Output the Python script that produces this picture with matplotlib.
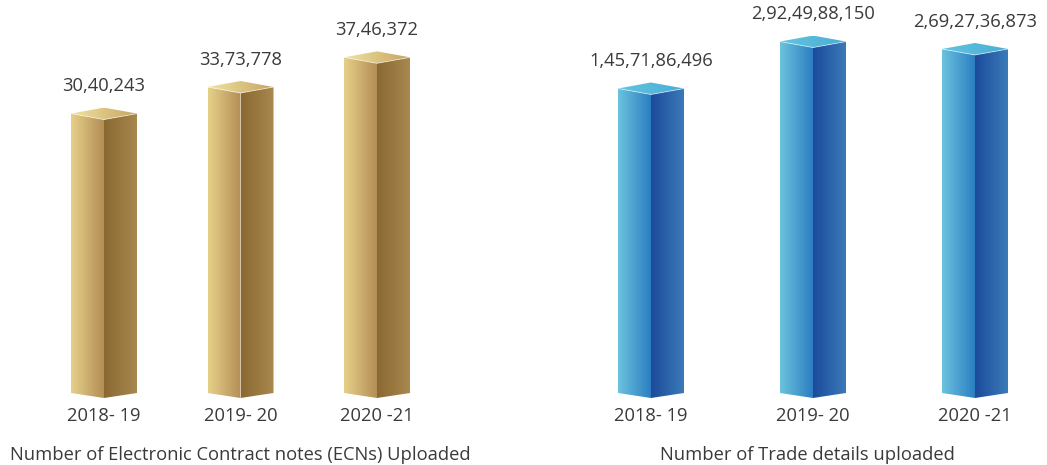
import numpy as np
import matplotlib
matplotlib.use('Agg')
import matplotlib.pyplot as plt
from matplotlib.patches import Polygon
from matplotlib.colors import LinearSegmentedColormap

plt.rcParams['font.family'] = ['Open Sans', 'DejaVu Sans']

# data
years = ['2018- 19', '2019- 20', '2020 -21']
ecn_counts = [3040243, 3373778, 3746372]
ecn_labels = ['30,40,243', '33,73,778', '37,46,372']
trade_counts = [1457186496, 2924988150, 2692736873]
trade_labels = ['1,45,71,86,496', '2,92,49,88,150', '2,69,27,36,873']

TXT = '#3a3a3a'
FS = 13.2
W, H = 1047, 465
fig = plt.figure(figsize=(W / 100, H / 100), dpi=100)

# face colours: (left face, right face, top face), each a left->right gradient
gold = [('#e6d089', '#b48e57'), ('#8a6832', '#a9894f'), ('#f1e3a0', '#c6a462')]
blue = [('#6cc2de', '#2b7fc1'), ('#1b4b9b', '#3c7bb9'), ('#62c4e0', '#4aaed6')]


def draw_pillar(ax, x, v, floor, faces):
    tr = ax.transData
    cx, ytop = tr.transform((x, v))
    _, ybase = tr.transform((x, floor))
    w, d, b = 33, 6, 5
    left = [(cx - w, ybase + b), (cx, ybase), (cx, ytop - d), (cx - w, ytop)]
    right = [(cx, ybase), (cx + w, ybase + b), (cx + w, ytop), (cx, ytop - d)]
    top = [(cx - w, ytop), (cx, ytop + d), (cx + w, ytop), (cx, ytop - d)]
    for verts, (c0, c1) in zip([left, right, top], faces):
        pts = tr.inverted().transform(verts)
        poly = Polygon(pts, closed=True, transform=ax.transData,
                       facecolor='none', edgecolor='none')
        ax.add_patch(poly)
        cmap = LinearSegmentedColormap.from_list('g', [c0, c1])
        grad = np.linspace(0, 1, 64).reshape(1, -1)
        im = ax.imshow(grad, cmap=cmap, aspect='auto', origin='lower',
                       extent=(pts[:, 0].min(), pts[:, 0].max(),
                               pts[:, 1].min(), pts[:, 1].max()),
                       interpolation='bilinear', zorder=2)
        im.set_clip_path(poly)
    # thin light edge round the top face
    edge = tr.inverted().transform([(cx - w, ytop), (cx, ytop - d), (cx + w, ytop)])
    ax.plot(edge[:, 0], edge[:, 1], color='white', lw=0.6, alpha=0.6, zorder=3)


def panel(rect, xlim, ylim, values, labels, faces, title, title_x):
    ax = fig.add_axes(rect)
    ax.set_xlim(*xlim)
    ax.set_ylim(*ylim)
    ax.set_autoscale_on(False)
    for s in ax.spines.values():
        s.set_visible(False)
    ax.set_yticks([])
    ax.set_xticks(range(len(years)))
    ax.set_xticklabels(years, fontsize=FS, color=TXT)
    ax.tick_params(axis='x', length=0, pad=6.5)
    for i, (v, lab) in enumerate(zip(values, labels)):
        draw_pillar(ax, i, v, ylim[0], faces)
        ax.annotate(lab, xy=(i, v), xytext=(0, 19.5), textcoords='offset points',
                    ha='center', va='center', fontsize=FS, color=TXT)
    fig.text(title_x / W, 1 - 455 / H, title, ha='center', va='center',
             fontsize=FS, color=TXT)
    return ax


bottom = 67 / H
height = 398 / H
panel([0, bottom, 0.5, height], (-104 / 136.5, (523.5 - 104) / 136.5),
      (-0.53e6, 4.466e6), ecn_counts, ecn_labels, gold,
      'Number of Electronic Contract notes (ECNs) Uploaded', 240)
panel([0.5, bottom, 0.5, height], ((523.5 - 651) / 162, (1047 - 651) / 162),
      (-8.22e9, 4.224e9), trade_counts, trade_labels, blue,
      'Number of Trade details uploaded', 807)

fig.savefig('out.png', dpi=100)
